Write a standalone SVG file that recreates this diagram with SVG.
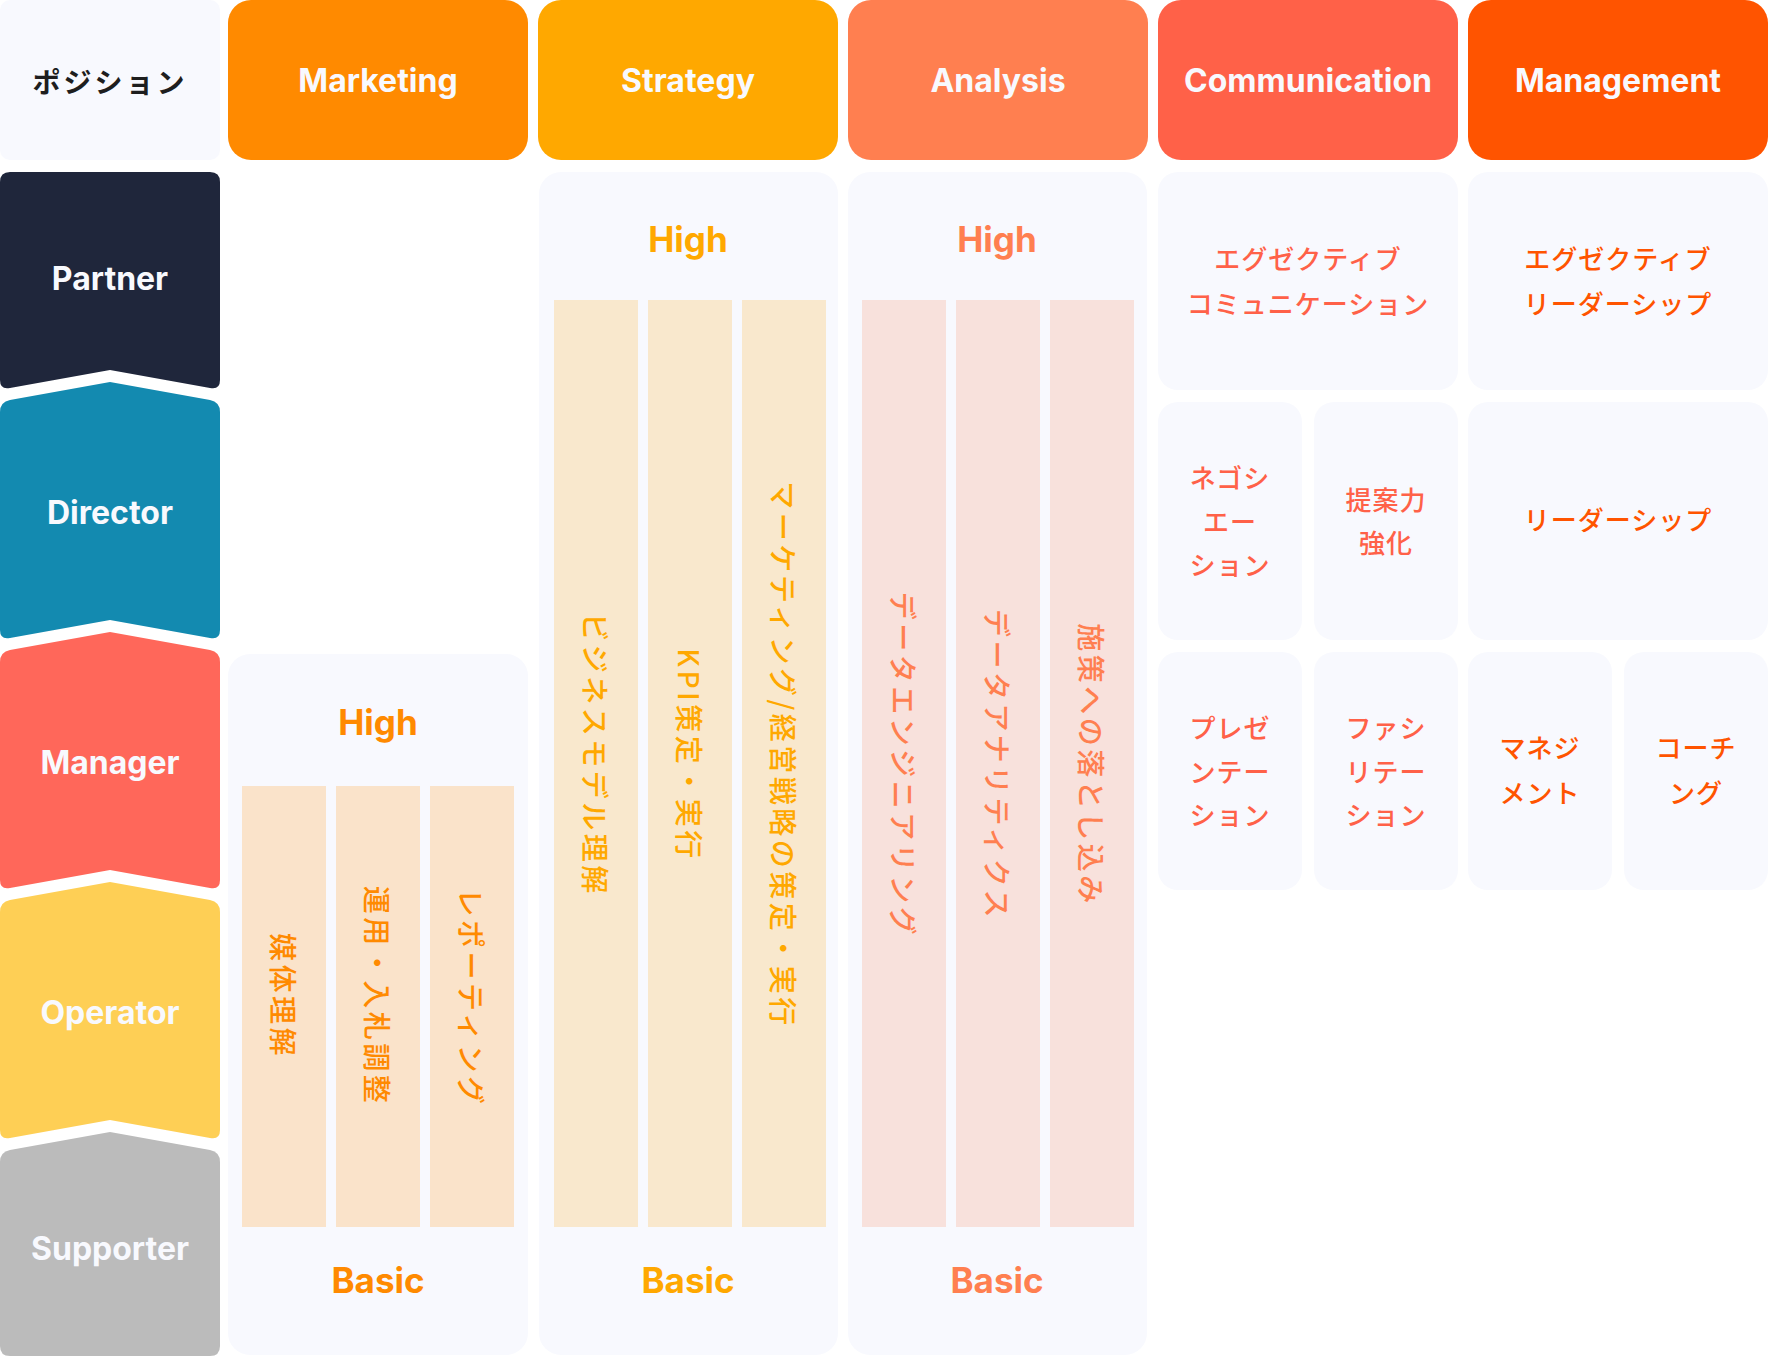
<svg xmlns="http://www.w3.org/2000/svg" width="1768" height="1356" viewBox="0 0 1768 1356">
<style>
.hd{font-family:Inter,"Noto Sans","Liberation Sans",sans-serif;font-weight:700;font-size:32px;fill:#F8F9FE;text-anchor:middle}
.lvl{font-family:Inter,"Noto Sans","Liberation Sans",sans-serif;font-weight:700;font-size:35px;text-anchor:middle}
.cell{font-family:"Noto Sans CJK JP",sans-serif;font-weight:500;font-size:26px;letter-spacing:1px;text-anchor:middle}
.vt{font-family:"Noto Sans CJK JP",sans-serif;font-weight:500;font-size:28px;letter-spacing:3.5px;text-anchor:middle;dominant-baseline:central}
.panel{fill:#F8F9FE}
.mk{fill:#FF8A00}.st{fill:#FFA800}.an{fill:#FF7F50}.cm{fill:#FF6148}.mg{fill:#FF5400}
.smk{fill:#FAE3CA}.sst{fill:#F9E8CD}.san{fill:#F8E1DC}
</style>

<g id="header-position">
<rect x="0" y="0" width="220" height="160" rx="10" fill="#F8F9FE"/>
<text x="110" y="93" font-family="'Noto Sans CJK JP',sans-serif" font-weight="700" font-size="28" letter-spacing="3" text-anchor="middle" fill="#1E1E1E">ポジション</text>
</g>
<g id="header-marketing">
<rect x="228" y="0" width="300" height="160" rx="23" class="mk"/>
<text x="378" y="92" class="hd">Marketing</text>
</g>
<g id="header-strategy">
<rect x="538" y="0" width="300" height="160" rx="23" class="st"/>
<text x="688" y="92" class="hd">Strategy</text>
</g>
<g id="header-analysis">
<rect x="848" y="0" width="300" height="160" rx="23" class="an"/>
<text x="998" y="92" class="hd">Analysis</text>
</g>
<g id="header-communication">
<rect x="1158" y="0" width="300" height="160" rx="23" class="cm"/>
<text x="1308" y="92" class="hd">Communication</text>
</g>
<g id="header-management">
<rect x="1468" y="0" width="300" height="160" rx="23" class="mg"/>
<text x="1618" y="92" class="hd">Management</text>
</g>

<g id="pos-partner">
<path d="M0,182 Q0,172 10,172 L210,172 Q220,172 220,182 L220,380 Q220,390 210,388 L110,370 L10,388 Q0,390 0,380 Z" fill="#1F263B"/>
<text x="110" y="290" class="hd">Partner</text>
</g>
<g id="pos-director">
<path d="M0,412 Q0,402 10,400 L110,382 L210,400 Q220,402 220,412 L220,630 Q220,640 210,638 L110,620 L10,638 Q0,640 0,630 Z" fill="#138AB0"/>
<text x="110" y="524" class="hd">Director</text>
</g>
<g id="pos-manager">
<path d="M0,662 Q0,652 10,650 L110,632 L210,650 Q220,652 220,662 L220,880 Q220,890 210,888 L110,870 L10,888 Q0,890 0,880 Z" fill="#FF675A"/>
<text x="110" y="774" class="hd">Manager</text>
</g>
<g id="pos-operator">
<path d="M0,912 Q0,902 10,900 L110,882 L210,900 Q220,902 220,912 L220,1130 Q220,1140 210,1138 L110,1120 L10,1138 Q0,1140 0,1130 Z" fill="#FECF55"/>
<text x="110" y="1024" class="hd">Operator</text>
</g>
<g id="pos-supporter">
<path d="M0,1162 Q0,1152 10,1150 L110,1132 L210,1150 Q220,1152 220,1162 L220,1346 Q220,1356 210,1356 L10,1356 Q0,1356 0,1346 Z" fill="#BBBBBB"/>
<text x="110" y="1260" class="hd">Supporter</text>
</g>

<g id="marketing-skills">
<rect x="228" y="654" width="300" height="701" rx="22" class="panel"/>
<text x="378" y="735" class="lvl mk">High</text>
<rect x="242" y="786" width="84" height="441" class="smk"/>
<rect x="336" y="786" width="84" height="441" class="smk"/>
<rect x="430" y="786" width="84" height="441" class="smk"/>
<text transform="translate(284,996) rotate(90)" class="vt mk">媒体理解</text>
<text transform="translate(378,996) rotate(90)" class="vt mk">運用・入札調整</text>
<text transform="translate(472,998) rotate(90)" class="vt mk">レポーティング</text>
<text x="378" y="1293" class="lvl mk">Basic</text>
</g>

<g id="strategy-skills">
<rect x="539" y="172" width="299" height="1183" rx="22" class="panel"/>
<text x="688" y="252" class="lvl st">High</text>
<rect x="554" y="300" width="84" height="927" class="sst"/>
<rect x="648" y="300" width="84" height="927" class="sst"/>
<rect x="742" y="300" width="84" height="927" class="sst"/>
<text transform="translate(596,755) rotate(90)" class="vt st">ビジネスモデル理解</text>
<text transform="translate(690,755) rotate(90)" class="vt st">KPI策定・実行</text>
<text transform="translate(784,755) rotate(90)" class="vt st">マーケティング/経営戦略の策定・実行</text>
<text x="688" y="1293" class="lvl st">Basic</text>
</g>

<g id="analysis-skills">
<rect x="848" y="172" width="299" height="1183" rx="22" class="panel"/>
<text x="997" y="252" class="lvl an">High</text>
<rect x="862" y="300" width="84" height="927" class="san"/>
<rect x="956" y="300" width="84" height="927" class="san"/>
<rect x="1050" y="300" width="84" height="927" class="san"/>
<text transform="translate(904,765) rotate(90)" class="vt an">データエンジニアリング</text>
<text transform="translate(998,765) rotate(90)" class="vt an">データアナリティクス</text>
<text transform="translate(1092,765) rotate(90)" class="vt an">施策への落とし込み</text>
<text x="997" y="1293" class="lvl an">Basic</text>
</g>

<g id="comm-executive">
<rect x="1158" y="172" width="300" height="218" rx="20" class="panel"/>
<text class="cell cm" x="1308" y="269">エグゼクティブ</text>
<text class="cell cm" x="1308" y="314">コミュニケーション</text>
</g>
<g id="mgmt-executive">
<rect x="1468" y="172" width="300" height="218" rx="20" class="panel"/>
<text class="cell mg" x="1618" y="269" font-weight="700">エグゼクティブ</text>
<text class="cell mg" x="1618" y="314" font-weight="700">リーダーシップ</text>
</g>
<g id="comm-negotiation">
<rect x="1158" y="402" width="144" height="238" rx="20" class="panel"/>
<text class="cell cm" x="1230" y="488">ネゴシ</text>
<text class="cell cm" x="1230" y="532">エー</text>
<text class="cell cm" x="1230" y="575">ション</text>
</g>
<g id="comm-proposal">
<rect x="1314" y="402" width="144" height="238" rx="20" class="panel"/>
<text class="cell cm" x="1386" y="510">提案力</text>
<text class="cell cm" x="1386" y="553">強化</text>
</g>
<g id="mgmt-leadership">
<rect x="1468" y="402" width="300" height="238" rx="20" class="panel"/>
<text class="cell mg" x="1618" y="530" font-weight="700">リーダーシップ</text>
</g>
<g id="comm-presentation">
<rect x="1158" y="652" width="144" height="238" rx="20" class="panel"/>
<text class="cell cm" x="1230" y="738">プレゼ</text>
<text class="cell cm" x="1230" y="782">ンテー</text>
<text class="cell cm" x="1230" y="825">ション</text>
</g>
<g id="comm-facilitation">
<rect x="1314" y="652" width="144" height="238" rx="20" class="panel"/>
<text class="cell cm" x="1386" y="738">ファシ</text>
<text class="cell cm" x="1386" y="782">リテー</text>
<text class="cell cm" x="1386" y="825">ション</text>
</g>
<g id="mgmt-management">
<rect x="1468" y="652" width="144" height="238" rx="20" class="panel"/>
<text class="cell mg" x="1540" y="758" font-weight="700">マネジ</text>
<text class="cell mg" x="1540" y="803" font-weight="700">メント</text>
</g>
<g id="mgmt-coaching">
<rect x="1624" y="652" width="144" height="238" rx="20" class="panel"/>
<text class="cell mg" x="1696" y="758" font-weight="700">コーチ</text>
<text class="cell mg" x="1696" y="803" font-weight="700">ング</text>
</g>

<g id="connectors"/>
</svg>
